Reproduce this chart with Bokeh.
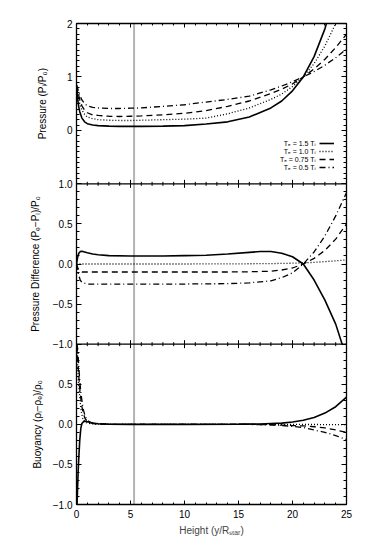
from math import pi
from bokeh.plotting import figure
from bokeh.layouts import row
from bokeh.models import (Range1d, LinearAxis, FixedTicker, Span, Label, Legend,
                          LegendItem, CustomJSTickFormatter)
from bokeh.embed import file_html
from bokeh.resources import INLINE

# ---------------- data ----------------
series_labels = ["Tₑ = 1.5 Tᵢ", "Tₑ = 1.0 Tᵢ", "Tₑ = 0.75 Tᵢ", "Tₑ = 0.5 Tᵢ"]
panel_titles = ["Pressure (Pᵢ/P₀)", "Pressure Difference (Pₑ−Pᵢ)/P₀", "Buoyancy (ρᵢ−ρₑ)/ρ₀"]
x_title = "Height (y/Rₛₜₐᵣ)"
marker_height = 5.33

# Pressure panel
x_pres = [0, 0.1, 0.2, 0.3, 0.5, 0.75, 1, 1.5, 2, 3, 4, 5, 6, 8, 10, 12, 14, 16, 18, 19, 20, 21, 22, 23, 24, 25]
pres_te15 = [0.82, 0.6, 0.45, 0.35, 0.23, 0.16, 0.125, 0.1, 0.09, 0.08, 0.075, 0.075, 0.075, 0.08, 0.09, 0.12,
             0.16, 0.25, 0.42, 0.55, 0.74, 1.0, 1.38, 1.9, 2.6, 3.6]
pres_te10 = [0.85, 0.72, 0.6, 0.5, 0.38, 0.3, 0.25, 0.22, 0.2, 0.19, 0.185, 0.185, 0.19, 0.2, 0.21, 0.23,
             0.31, 0.42, 0.58, 0.68, 0.82, 1.0, 1.25, 1.58, 2.0, 2.55]
pres_te075 = [0.85, 0.76, 0.66, 0.58, 0.46, 0.38, 0.33, 0.29, 0.28, 0.265, 0.26, 0.265, 0.27, 0.29, 0.32, 0.37,
              0.45, 0.55, 0.69, 0.77, 0.87, 1.0, 1.15, 1.33, 1.55, 1.8]
pres_te05 = [0.85, 0.79, 0.72, 0.66, 0.57, 0.5, 0.46, 0.43, 0.42, 0.41, 0.41, 0.415, 0.42, 0.45, 0.48, 0.53,
             0.58, 0.64, 0.76, 0.83, 0.91, 1.0, 1.1, 1.22, 1.36, 1.52]

# Pressure-difference panel
x_diff_15 = [0, 0.1, 0.2, 0.35, 0.5, 0.75, 1, 1.5, 2, 3, 5, 8, 10, 12, 14, 16, 17, 18, 19, 20, 21, 22, 23, 24, 24.6]
diff_te15 = [0.0, 0.08, 0.13, 0.155, 0.16, 0.15, 0.14, 0.125, 0.115, 0.105, 0.1, 0.1, 0.105, 0.11, 0.125, 0.145,
             0.155, 0.155, 0.135, 0.09, 0.0, -0.2, -0.45, -0.75, -1.0]
x_diff_10 = [0, 10, 15, 18, 20, 21, 22, 23, 24, 25]
diff_te10 = [0.0, 0.0, 0.002, 0.005, 0.01, 0.015, 0.02, 0.03, 0.04, 0.05]
x_diff_low = [0, 0.1, 0.2, 0.35, 0.5, 1, 2, 5, 10, 14, 16, 18, 19, 20, 21, 22, 23, 24, 25]
diff_te075 = [0.0, -0.04, -0.07, -0.09, -0.1, -0.1, -0.1, -0.1, -0.1, -0.1, -0.097, -0.09, -0.075, -0.05, 0.0,
              0.07, 0.17, 0.31, 0.5]
diff_te05 = [0.0, -0.07, -0.14, -0.2, -0.23, -0.25, -0.25, -0.25, -0.25, -0.245, -0.235, -0.21, -0.17, -0.11, 0.0,
             0.15, 0.35, 0.6, 0.89]

# Buoyancy panel
x_buoy_15 = [0.05, 0.1, 0.15, 0.2, 0.3, 0.4, 0.5, 0.7, 0.9, 1.2, 1.5, 2, 3, 5, 10, 15, 17, 18, 19, 20, 21, 22, 23, 24, 25]
buoy_te15 = [-1.0, -0.8, -0.6, -0.45, -0.2, -0.05, 0.01, 0.04, 0.035, 0.025, 0.015, 0.008, 0.003, 0.0, 0.0, 0.002,
             0.005, 0.01, 0.015, 0.03, 0.05, 0.085, 0.14, 0.22, 0.34]
x_buoy_low = [0.05, 0.1, 0.2, 0.3, 0.4, 0.5, 0.6, 0.8, 1.0, 1.3, 1.6, 2, 3, 5, 10, 15, 17, 18, 19, 20, 21, 22, 23, 24, 25]
buoy_te10 = [0.9, 0.75, 0.5, 0.33, 0.2, 0.12, 0.07, 0.03, 0.015, 0.008, 0.004, 0.002, 0.0, 0.0, 0.0, 0.0, 0.0, 0.0,
             0.0, -0.001, -0.002, -0.002, -0.003, -0.004, -0.005]
buoy_te075 = [0.98, 0.85, 0.62, 0.45, 0.32, 0.22, 0.15, 0.07, 0.04, 0.02, 0.01, 0.005, 0.0, 0.0, 0.0, 0.0, -0.002,
              -0.005, -0.01, -0.015, -0.02, -0.03, -0.045, -0.07, -0.1]
buoy_te05 = [1.0, 0.95, 0.75, 0.55, 0.4, 0.3, 0.2, 0.1, 0.05, 0.025, 0.012, 0.006, 0.0, 0.0, 0.0, 0.0, -0.003,
             -0.008, -0.015, -0.025, -0.04, -0.07, -0.1, -0.14, -0.19]

# ticks
x_major = [0, 5, 10, 15, 20, 25]
x_minor = list(range(0, 26))
pres_major = [-1, 0, 1, 2]
pres_minor = [round(-1 + 0.1 * i, 1) for i in range(31)]
diff_major = [-1.0, -0.5, 0.0, 0.5, 1.0]
diff_minor = [round(-1 + 0.1 * i, 1) for i in range(21)]
buoy_major = [-1.0, -0.5, 0.0, 0.5, 1.0]
buoy_minor = [round(-1 + 0.1 * i, 1) for i in range(21)]

FONT = "Liberation Sans"
MINUS = "\u2212"

# ---------------- ranges ----------------
frame_rng = Range1d(0, 3)          # three stacked panels, one unit each
pres_rng = Range1d(-7, 2)          # panel occupies the top third
diff_rng = Range1d(-3, 3)          # middle third
buoy_rng = Range1d(-1, 5)          # bottom third
extra = {"pres": pres_rng, "diff": diff_rng, "buoy": buoy_rng}

TOP, BOTTOM = 23, 39
HEIGHT = 543
LEFT_W = 49

# narrow figure holding the rotated panel titles
pt = figure(width=LEFT_W, height=HEIGHT, output_backend="svg", toolbar_location=None,
            x_range=Range1d(0, LEFT_W), y_range=frame_rng, x_axis_location=None,
            y_axis_location=None, min_border_left=0, min_border_right=0,
            min_border_top=TOP, min_border_bottom=BOTTOM)
pt.extra_y_ranges = dict(extra)
pt.grid.visible = False
pt.outline_line_color = None
for txt, yv, rn, xv in [(panel_titles[0], 0.5, "pres", 42),
                        (panel_titles[1], 0.0, "diff", 35),
                        (panel_titles[2], 0.0, "buoy", 37)]:
    pt.add_layout(Label(x=xv, y=yv, y_range_name=rn, text=txt, angle=pi / 2, text_align="center",
                        text_baseline="middle", text_font=FONT, text_font_size="10px",
                        text_color="black"))

# main figure
p = figure(width=311, height=HEIGHT, output_backend="svg", toolbar_location=None,
           x_range=Range1d(0, 25), y_range=frame_rng, y_axis_location=None,
           min_border_left=25, min_border_right=14, min_border_top=TOP, min_border_bottom=BOTTOM)
p.extra_y_ranges = dict(extra)
p.grid.visible = False
p.outline_line_color = "black"


def to_frame(v, rng):
    return (v - rng.start) / (rng.end - rng.start) * 3.0


def fmt(v, dec):
    return f"{v:.{dec}f}".replace("-", MINUS)


tick_map = {}
minor_pos = set()
for rng, maj, mnr, dec in [(pres_rng, pres_major, pres_minor, 0),
                           (buoy_rng, buoy_major, buoy_minor, 1),
                           (diff_rng, diff_major, diff_minor, 1)]:
    for v in maj:
        tick_map[round(to_frame(v, rng), 9)] = fmt(v, dec)
    for v in mnr:
        minor_pos.add(round(to_frame(v, rng), 9))
maj_pos = sorted(tick_map)
maj_lab = [tick_map[k] for k in maj_pos]
minor_pos = sorted(minor_pos)

ytick_fmt = CustomJSTickFormatter(args=dict(pos=maj_pos, labs=maj_lab), code="""
for (let i = 0; i < pos.length; i++) { if (Math.abs(tick - pos[i]) < 1e-6) return labs[i]; }
return "";
""")
blank_fmt = CustomJSTickFormatter(code="return '';")


def style_axis(ax, tick_in, minor_in):
    ax.major_tick_in = tick_in
    ax.major_tick_out = 0
    ax.minor_tick_in = minor_in
    ax.minor_tick_out = 0
    ax.axis_line_color = "black"
    ax.axis_line_width = 1.3
    ax.major_tick_line_color = "black"
    ax.minor_tick_line_color = "black"
    ax.major_label_text_font = FONT
    ax.major_label_text_font_size = "10px"
    ax.major_label_text_color = "black"
    ax.axis_label_text_font = FONT
    ax.axis_label_text_font_style = "normal"
    ax.axis_label_text_font_size = "10px"


def blank_axis(ax):
    ax.formatter = blank_fmt
    ax.major_label_text_color = None
    ax.major_label_standoff = 0


yl = LinearAxis(ticker=FixedTicker(ticks=maj_pos, minor_ticks=minor_pos), formatter=ytick_fmt)
style_axis(yl, 5, 3)
yl.major_label_standoff = 4
p.add_layout(yl, "left")

yr = LinearAxis(ticker=FixedTicker(ticks=maj_pos, minor_ticks=minor_pos))
style_axis(yr, 5, 3)
blank_axis(yr)
p.add_layout(yr, "right")

xb = p.xaxis[0]
xb.ticker = FixedTicker(ticks=x_major, minor_ticks=x_minor)
style_axis(xb, 4, 2)
xb.major_label_standoff = 5
xb.axis_label = x_title
xb.axis_label_standoff = 4

xt = LinearAxis(ticker=FixedTicker(ticks=x_major, minor_ticks=x_minor))
style_axis(xt, 4, 2)
blank_axis(xt)
p.add_layout(xt, "above")

# panel boundaries with ticks crossing both sides
for b in [to_frame(-1, pres_rng), to_frame(-1, diff_rng)]:
    p.add_layout(Span(location=b, dimension="width", line_color="black", line_width=1.3))
    p.scatter(x=x_major, y=[b] * len(x_major), marker="dash", angle=pi / 2, size=8,
              line_color="black", line_width=1)
    p.scatter(x=x_minor, y=[b] * len(x_minor), marker="dash", angle=pi / 2, size=4,
              line_color="black", line_width=1)

# grey vertical marker
p.add_layout(Span(location=marker_height, dimension="height", line_color="#b4b4b4",
                  line_width=2, level="underlay"))

styles = [dict(line_dash="solid", line_width=1.6),
          dict(line_dash="1 2", line_width=1.3),
          dict(line_dash="6 4", line_width=1.3),
          dict(line_dash="6 3 1 3", line_width=1.3)]

pres_series = [(x_pres, pres_te15), (x_pres, pres_te10), (x_pres, pres_te075), (x_pres, pres_te05)]
diff_series = [(x_diff_15, diff_te15), (x_diff_10, diff_te10), (x_diff_low, diff_te075), (x_diff_low, diff_te05)]
buoy_series = [(x_buoy_15, buoy_te15), (x_buoy_low, buoy_te10), (x_buoy_low, buoy_te075), (x_buoy_low, buoy_te05)]

legend_renderers = []
for name, series in [("pres", pres_series), ("diff", diff_series), ("buoy", buoy_series)]:
    for (xs, ys), st in zip(series, styles):
        r = p.line(xs, ys, y_range_name=name, line_color="black", **st)
        if name == "pres":
            legend_renderers.append(r)

# legend: text on the left, line sample on the right
legend = Legend(items=[LegendItem(label=" ", renderers=[r]) for r in legend_renderers],
                location=(243, 333), glyph_width=15, glyph_height=8, label_width=0, label_height=8,
                label_standoff=0, padding=0, spacing=0, margin=0, border_line_color=None,
                background_fill_alpha=0, label_text_font_size="1px")
p.add_layout(legend)
legend_y = [-0.245, -0.395, -0.545, -0.69]
for txt, ly in zip(series_labels, legend_y):
    p.add_layout(Label(x=22.15, y=ly, y_range_name="pres", text=txt, text_align="right",
                       text_baseline="middle", text_font=FONT, text_font_size="7px",
                       text_color="black"))

layout = row(pt, p, spacing=0)
open("out.html", "w").write(file_html(layout, INLINE))
